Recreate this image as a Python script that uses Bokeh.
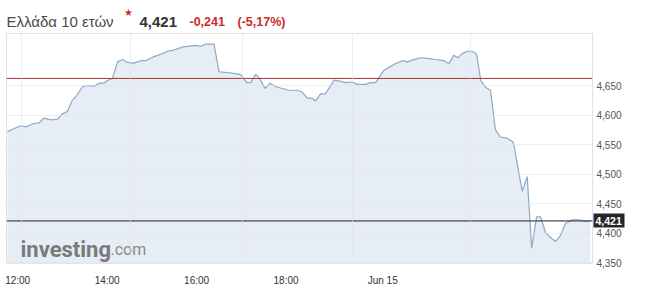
from bokeh.plotting import figure
from bokeh.layouts import column
from bokeh.models import Range1d, FixedTicker, Span, Label, LinearAxis, CustomJSTickFormatter
from bokeh.embed import file_html
from bokeh.resources import INLINE

# session hours (compressed trading axis)
times = [11.77, 11.88, 12.07, 12.18, 12.33, 12.48, 12.59, 12.74, 12.89, 13.00,
         13.11, 13.22, 13.30, 13.45, 13.56, 13.71, 13.82, 13.93, 14.00, 14.12,
         14.23, 14.34, 14.45, 14.60, 14.75, 14.86, 15.05, 15.20, 15.35, 15.49,
         15.68, 15.87, 15.98, 16.09, 16.20, 16.39, 16.50, 16.69, 16.98, 17.12,
         17.21, 17.32, 17.41, 17.53, 17.64, 17.77, 17.92, 18.06, 18.25, 18.36,
         18.47, 18.59, 18.66, 18.77, 18.88, 19.07, 19.18, 19.33, 19.48, 19.59,
         19.78, 19.89, 20.00, 20.19, 20.30, 20.45, 20.60, 20.71, 20.82, 21.01,
         21.16, 21.34, 21.53, 21.64, 21.75, 21.84, 21.94, 22.05, 22.16, 22.26,
         22.35, 22.42, 22.46, 22.57, 22.68, 22.79, 22.94, 23.08, 23.28, 23.39,
         23.49, 23.60, 23.69, 23.80, 24.02, 24.13, 24.25, 24.40, 24.54, 24.69,
         24.80]
yields = [4.572, 4.576, 4.582, 4.580, 4.585, 4.587, 4.595, 4.592, 4.593, 4.602,
          4.606, 4.625, 4.631, 4.648, 4.650, 4.649, 4.654, 4.654, 4.658, 4.662,
          4.690, 4.694, 4.689, 4.688, 4.692, 4.692, 4.699, 4.703, 4.708, 4.710,
          4.715, 4.717, 4.718, 4.716, 4.720, 4.720, 4.673, 4.672, 4.669, 4.655,
          4.655, 4.669, 4.662, 4.645, 4.654, 4.648, 4.645, 4.642, 4.642, 4.639,
          4.629, 4.628, 4.624, 4.636, 4.636, 4.659, 4.658, 4.655, 4.656, 4.652,
          4.652, 4.655, 4.655, 4.676, 4.681, 4.687, 4.692, 4.690, 4.693, 4.697,
          4.696, 4.694, 4.692, 4.687, 4.701, 4.697, 4.704, 4.708, 4.708, 4.703,
          4.659, 4.651, 4.647, 4.642, 4.575, 4.563, 4.561, 4.554, 4.471, 4.496,
          4.375, 4.428, 4.428, 4.401, 4.386, 4.396, 4.417, 4.423, 4.423, 4.420,
          4.421]

prev_close = 4.662
last_value = 4.421
y_ticks = [4.35, 4.40, 4.45, 4.50, 4.55, 4.60, 4.65]
x_ticks = [12, 14, 16, 18, 20.16]
x_labels = ["12:00", "14:00", "16:00", "18:00", "Jun 15"]
grid_x = [12.09, 14.53, 17.03, 19.49, 22.12]

title = "Ελλάδα 10 ετών"
last_text = "4,421"
change_text = "-0,241"
pct_text = "(-5,17%)"

X0, X1 = 11.75, 24.85
Y0, Y1 = 4.349, 4.738
RED = "#cc2b2b"

# ---------------- header strip ----------------
# the column aligns this frame with the chart frame (6 .. 592 px), so the
# header range is expressed in page pixels over that span
h = figure(width=645, height=32, output_backend="svg", toolbar_location=None,
           x_range=Range1d(6, 592), y_range=Range1d(32, 0),
           min_border=0, min_border_left=0, min_border_right=0,
           min_border_top=0, min_border_bottom=0,
           x_axis_type=None, y_axis_type=None)
h.title.visible = False
h.outline_line_color = None
h.grid.visible = False
h.background_fill_color = "white"
h.border_fill_color = "white"
hdr = dict(y=21, text_baseline="alphabetic", text_font="Liberation Sans")
h.add_layout(Label(x=6, text=title, text_color="#4a4a4a", text_font_size="15px", **hdr))
h.add_layout(Label(x=128, y=12, text="\u2605", text_color=RED, text_font_size="10px",
                   text_align="center", text_baseline="middle", text_font="DejaVu Sans"))
h.add_layout(Label(x=139, text=last_text, text_color="#333333", text_font_size="15px",
                   text_font_style="bold", **hdr))
h.add_layout(Label(x=189, text=change_text, text_color=RED, text_font_size="12.5px",
                   text_font_style="bold", **hdr))
h.add_layout(Label(x=237, text=pct_text, text_color=RED, text_font_size="12.5px",
                   text_font_style="bold", **hdr))

# ---------------- main chart ----------------
p = figure(width=645, height=266, output_backend="svg", toolbar_location=None,
           x_range=Range1d(X0, X1), y_range=Range1d(Y0, Y1),
           y_axis_location="right",
           min_border_left=6, min_border_right=53, min_border_top=1, min_border_bottom=35)

p.background_fill_color = "white"
p.border_fill_color = "white"
p.outline_line_color = "#e2e2e2"

p.ygrid.ticker = FixedTicker(ticks=y_ticks)
p.ygrid.grid_line_color = "#dfe4ea"
p.ygrid.grid_line_alpha = 0.6
p.xgrid.ticker = FixedTicker(ticks=grid_x)
p.xgrid.grid_line_color = "#dfe4ea"
p.xgrid.grid_line_alpha = 0.6
p.xgrid.level = "overlay"
p.ygrid.level = "overlay"

p.varea(x=times, y1=[Y0] * len(times), y2=yields, fill_color="#e6edf4", fill_alpha=1.0)
p.line(x=times, y=yields, line_color="#8aaac6", line_width=1.2)

p.add_layout(Span(location=prev_close, dimension="width", line_color="#a8322f", line_width=1))
p.add_layout(Span(location=last_value, dimension="width", line_color="#222222", line_width=1))

fmt = CustomJSTickFormatter(code="return tick.toFixed(3).replace('.', ',');")

yax = p.yaxis[0]
yax.ticker = FixedTicker(ticks=y_ticks)
yax.formatter = fmt
yax.axis_line_color = None
yax.major_tick_line_color = None
yax.minor_tick_line_color = None
yax.major_tick_out = 0
yax.major_tick_in = 0
yax.minor_tick_out = 0
yax.major_label_text_font = "Liberation Sans"
yax.major_label_text_font_size = "10px"
yax.major_label_text_color = "#555555"
yax.major_label_standoff = 4

xax = p.xaxis[0]
xax.ticker = FixedTicker(ticks=x_ticks)
xax.major_label_overrides = {t: l for t, l in zip(x_ticks, x_labels)}
xax.axis_line_color = None
xax.major_tick_line_color = None
xax.minor_tick_line_color = None
xax.major_tick_out = 0
xax.major_tick_in = 0
xax.minor_tick_out = 0
xax.major_label_text_font = "Liberation Sans"
xax.major_label_text_font_size = "10px"
xax.major_label_text_color = "#333333"
xax.major_label_standoff = 11

# last-value tag: a second right axis; its single thick tick forms the dark box,
# and its label is drawn back over the first axis' column
tag = LinearAxis(ticker=FixedTicker(ticks=[last_value]), formatter=fmt)
tag.axis_line_color = None
tag.minor_tick_line_color = None
tag.minor_tick_out = 0
tag.major_tick_out = 0
tag.major_tick_in = 31
tag.major_tick_line_color = "#262626"
tag.major_tick_line_width = 14
tag.major_tick_line_cap = "butt"
tag.major_label_text_font = "Liberation Sans"
tag.major_label_text_font_style = "bold"
tag.major_label_text_font_size = "10.5px"
tag.major_label_text_color = "white"
tag.major_label_standoff = -29
p.add_layout(tag, "right")

# watermark
p.add_layout(Label(x=X0, y=Y0, x_offset=14, y_offset=14, text="investing", text_color="#7a7a7a",
                   text_font="Roboto", text_font_style="bold", text_font_size="22px",
                   text_baseline="alphabetic"))
p.add_layout(Label(x=X0, y=Y0, x_offset=104, y_offset=14, text=".com", text_color="#8a8a8a",
                   text_font="Roboto", text_font_size="16px",
                   text_baseline="alphabetic"))

layout = column(h, p, spacing=0)
open("out.html", "w").write(file_html(layout, INLINE))
